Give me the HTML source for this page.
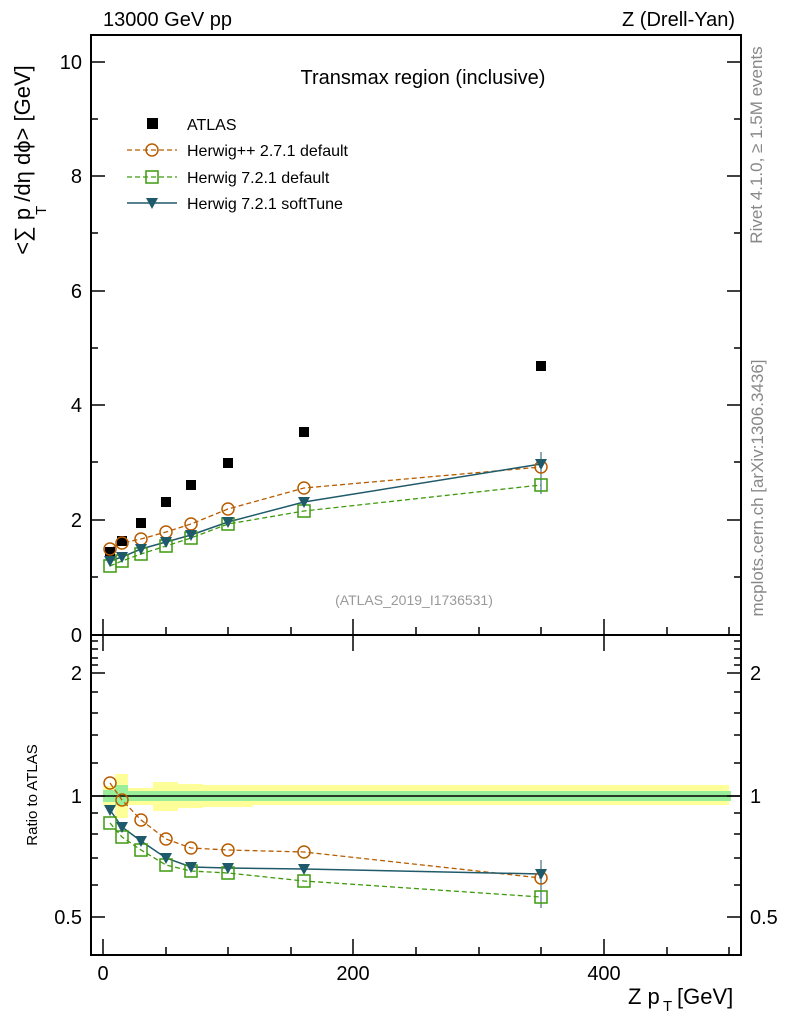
<!DOCTYPE html>
<html><head><style>body{margin:0;background:#fff}svg text{font-family:"Liberation Sans",sans-serif}</style></head><body>
<svg width="786" height="1024" xmlns="http://www.w3.org/2000/svg">
<defs>
<g id="c"><circle r="6" fill="none" stroke="#b85c00" stroke-width="1.5"/></g>
<g id="s"><rect x="-6" y="-6" width="12" height="12" fill="none" stroke="#3f9a0e" stroke-width="1.5"/></g>
<g id="t"><path d="M-6,-5 L6,-5 L0,6 Z" fill="#1f5a6a"/></g>
</defs>
<g>
<rect x="103" y="786" width="12" height="20" fill="#ffff99"/>
<rect x="115" y="774" width="13" height="44" fill="#ffff99"/>
<rect x="128" y="788" width="25" height="17" fill="#ffff99"/>
<rect x="153" y="782" width="25" height="29" fill="#ffff99"/>
<rect x="178" y="784" width="25" height="24" fill="#ffff99"/>
<rect x="203" y="785" width="50" height="22" fill="#ffff99"/>
<rect x="253" y="785" width="476" height="20" fill="#ffff99"/>
<rect x="103" y="790" width="25" height="12" fill="#99ee99"/>
<rect x="115" y="785" width="13" height="20" fill="#99ee99"/>
<rect x="128" y="791" width="603" height="10" fill="#99ee99"/>
<line x1="91" y1="796" x2="741" y2="796" stroke="#000" stroke-width="1.5"/>
</g>
<rect x="91" y="35" width="650" height="600" fill="none" stroke="#000" stroke-width="2"/>
<rect x="91" y="635" width="650" height="320" fill="none" stroke="#000" stroke-width="2"/>
<g stroke="#000" stroke-width="1.5">
<line x1="91" y1="62" x2="105" y2="62"/><line x1="727" y1="62" x2="741" y2="62"/>
<line x1="91" y1="176" x2="105" y2="176"/><line x1="727" y1="176" x2="741" y2="176"/>
<line x1="91" y1="291" x2="105" y2="291"/><line x1="727" y1="291" x2="741" y2="291"/>
<line x1="91" y1="405" x2="105" y2="405"/><line x1="727" y1="405" x2="741" y2="405"/>
<line x1="91" y1="520" x2="105" y2="520"/><line x1="727" y1="520" x2="741" y2="520"/>
<line x1="91" y1="119" x2="98" y2="119"/><line x1="734" y1="119" x2="741" y2="119"/>
<line x1="91" y1="233" x2="98" y2="233"/><line x1="734" y1="233" x2="741" y2="233"/>
<line x1="91" y1="348" x2="98" y2="348"/><line x1="734" y1="348" x2="741" y2="348"/>
<line x1="91" y1="462" x2="98" y2="462"/><line x1="734" y1="462" x2="741" y2="462"/>
<line x1="91" y1="577" x2="98" y2="577"/><line x1="734" y1="577" x2="741" y2="577"/>
<line x1="103" y1="619" x2="103" y2="635"/><line x1="353" y1="619" x2="353" y2="635"/><line x1="604" y1="619" x2="604" y2="635"/>
<line x1="166" y1="627" x2="166" y2="635"/><line x1="228" y1="627" x2="228" y2="635"/><line x1="291" y1="627" x2="291" y2="635"/><line x1="416" y1="627" x2="416" y2="635"/><line x1="479" y1="627" x2="479" y2="635"/><line x1="541" y1="627" x2="541" y2="635"/><line x1="667" y1="627" x2="667" y2="635"/><line x1="729" y1="627" x2="729" y2="635"/>
<line x1="103" y1="939" x2="103" y2="955"/><line x1="353" y1="939" x2="353" y2="955"/><line x1="604" y1="939" x2="604" y2="955"/>
<line x1="166" y1="947" x2="166" y2="955"/><line x1="228" y1="947" x2="228" y2="955"/><line x1="291" y1="947" x2="291" y2="955"/><line x1="416" y1="947" x2="416" y2="955"/><line x1="479" y1="947" x2="479" y2="955"/><line x1="541" y1="947" x2="541" y2="955"/><line x1="667" y1="947" x2="667" y2="955"/><line x1="729" y1="947" x2="729" y2="955"/>
<line x1="103" y1="635" x2="103" y2="651"/><line x1="353" y1="635" x2="353" y2="651"/><line x1="604" y1="635" x2="604" y2="651"/>
<line x1="91" y1="673" x2="105" y2="673"/><line x1="727" y1="673" x2="741" y2="673"/>
<line x1="91" y1="796" x2="105" y2="796"/><line x1="727" y1="796" x2="741" y2="796"/>
<line x1="91" y1="917" x2="105" y2="917"/><line x1="727" y1="917" x2="741" y2="917"/>
<g id="mt">
<line x1="91" y1="641" x2="98" y2="641"/><line x1="91" y1="649" x2="98" y2="649"/><line x1="91" y1="658" x2="98" y2="658"/><line x1="91" y1="665" x2="98" y2="665"/><line x1="91" y1="692" x2="98" y2="692"/><line x1="91" y1="713" x2="98" y2="713"/><line x1="91" y1="735" x2="98" y2="735"/><line x1="91" y1="763" x2="98" y2="763"/><line x1="91" y1="813" x2="98" y2="813"/><line x1="91" y1="834" x2="98" y2="834"/><line x1="91" y1="858" x2="98" y2="858"/><line x1="91" y1="885" x2="98" y2="885"/>
</g>
<use href="#mt" transform="translate(832,0) scale(-1,1)"/>
</g>
<polyline points="110,549 122,543 141,539 166,532 191,524 228,509 304,488 541,467" fill="none" stroke="#b85c00" stroke-width="1.3" stroke-dasharray="5,3"/>
<polyline points="110,566 122,561 141,554 166,546 191,538 228,524 304,511 541,485" fill="none" stroke="#3f9a0e" stroke-width="1.3" stroke-dasharray="5,3"/>
<polyline points="110,561 122,557 141,549 166,542 191,535 228,522 304,502 541,464" fill="none" stroke="#1f5a6a" stroke-width="1.5"/>
<line x1="541" y1="452" x2="541" y2="494" stroke="#1f5a6a"/>
<g fill="#000">
<rect x="105" y="547" width="10" height="10"/><rect x="117" y="536" width="10" height="10"/><rect x="136" y="518" width="10" height="10"/><rect x="161" y="497" width="10" height="10"/><rect x="186" y="480" width="10" height="10"/><rect x="223" y="458" width="10" height="10"/><rect x="299" y="427" width="10" height="10"/><rect x="536" y="361" width="10" height="10"/>
</g>
<g><use href="#c" x="110" y="549"/><use href="#c" x="122" y="543"/><use href="#c" x="141" y="539"/><use href="#c" x="166" y="532"/><use href="#c" x="191" y="524"/><use href="#c" x="228" y="509"/><use href="#c" x="304" y="488"/><use href="#c" x="541" y="467"/></g>
<g><use href="#s" x="110" y="566"/><use href="#s" x="122" y="561"/><use href="#s" x="141" y="554"/><use href="#s" x="166" y="546"/><use href="#s" x="191" y="538"/><use href="#s" x="228" y="524"/><use href="#s" x="304" y="511"/><use href="#s" x="541" y="485"/></g>
<g><use href="#t" x="110" y="561"/><use href="#t" x="122" y="557"/><use href="#t" x="141" y="549"/><use href="#t" x="166" y="542"/><use href="#t" x="191" y="535"/><use href="#t" x="228" y="522"/><use href="#t" x="304" y="502"/><use href="#t" x="541" y="464"/></g>
<polyline points="110,783 122,800 141,820 166,839 191,848 228,850 304,852 541,878" fill="none" stroke="#b85c00" stroke-width="1.3" stroke-dasharray="5,3"/>
<polyline points="110,823 122,837 141,850 166,865 191,871 228,873 304,881 541,897" fill="none" stroke="#3f9a0e" stroke-width="1.3" stroke-dasharray="5,3"/>
<polyline points="110,810 122,827 141,841 166,858 191,867 228,868 304,869 541,874" fill="none" stroke="#1f5a6a" stroke-width="1.5"/>
<line x1="541" y1="860" x2="541" y2="908" stroke="#1f5a6a"/>
<g><use href="#c" x="110" y="783"/><use href="#c" x="122" y="800"/><use href="#c" x="141" y="820"/><use href="#c" x="166" y="839"/><use href="#c" x="191" y="848"/><use href="#c" x="228" y="850"/><use href="#c" x="304" y="852"/><use href="#c" x="541" y="878"/></g>
<g><use href="#s" x="110" y="823"/><use href="#s" x="122" y="837"/><use href="#s" x="141" y="850"/><use href="#s" x="166" y="865"/><use href="#s" x="191" y="871"/><use href="#s" x="228" y="873"/><use href="#s" x="304" y="881"/><use href="#s" x="541" y="897"/></g>
<g><use href="#t" x="110" y="810"/><use href="#t" x="122" y="827"/><use href="#t" x="141" y="841"/><use href="#t" x="166" y="858"/><use href="#t" x="191" y="867"/><use href="#t" x="228" y="868"/><use href="#t" x="304" y="869"/><use href="#t" x="541" y="874"/></g>
<rect x="147" y="118" width="11" height="11" fill="#000"/>
<text x="187" y="130" font-size="16">ATLAS</text>
<line x1="127" y1="150" x2="177" y2="150" stroke="#b85c00" stroke-width="1.3" stroke-dasharray="5,3"/><use href="#c" x="152" y="150"/>
<text x="187" y="156" font-size="16">Herwig++ 2.7.1 default</text>
<line x1="127" y1="177" x2="177" y2="177" stroke="#3f9a0e" stroke-width="1.3" stroke-dasharray="5,3"/><use href="#s" x="152" y="177"/>
<text x="187" y="183" font-size="16">Herwig 7.2.1 default</text>
<line x1="127" y1="203" x2="177" y2="203" stroke="#1f5a6a" stroke-width="1.5"/><use href="#t" x="152" y="203"/>
<text x="187" y="209" font-size="16">Herwig 7.2.1 softTune</text>
<text x="103" y="26" font-size="20">13000 GeV pp</text>
<text x="735" y="26" font-size="20" text-anchor="end">Z (Drell-Yan)</text>
<text x="423" y="84" font-size="20" text-anchor="middle">Transmax region (inclusive)</text>
<text x="414" y="605" font-size="14" fill="#999" text-anchor="middle">(ATLAS_2019_I1736531)</text>
<g font-size="20" text-anchor="end">
<text x="82" y="69">10</text><text x="82" y="183">8</text><text x="82" y="298">6</text><text x="82" y="412">4</text><text x="82" y="527">2</text><text x="82" y="642">0</text>
<text x="82" y="680">2</text><text x="82" y="803">1</text><text x="82" y="924">0.5</text>
</g>
<g font-size="20"><text x="750" y="680">2</text><text x="750" y="803">1</text><text x="750" y="924">0.5</text></g>
<g font-size="20" text-anchor="middle"><text x="103" y="980">0</text><text x="353" y="980">200</text><text x="604" y="980">400</text></g>
<text x="628" y="1004" font-size="22">Z p</text><text x="663" y="1011" font-size="15">T</text><text x="677" y="1004" font-size="22">[GeV]</text>
<text transform="translate(30,160) rotate(-90)" font-size="22" text-anchor="middle">&lt;∑ p    /dη dϕ&gt; [GeV]</text>
<text transform="translate(46,215) rotate(-90)" font-size="15">T</text>
<text transform="translate(37,795) rotate(-90)" font-size="15" text-anchor="middle">Ratio to ATLAS</text>
<text transform="translate(762,145) rotate(-90)" font-size="17" fill="#888" text-anchor="middle">Rivet 4.1.0, ≥ 1.5M events</text>
<text transform="translate(763,488) rotate(-90)" font-size="17" fill="#888" text-anchor="middle">mcplots.cern.ch [arXiv:1306.3436]</text>
</svg>
</body></html>
